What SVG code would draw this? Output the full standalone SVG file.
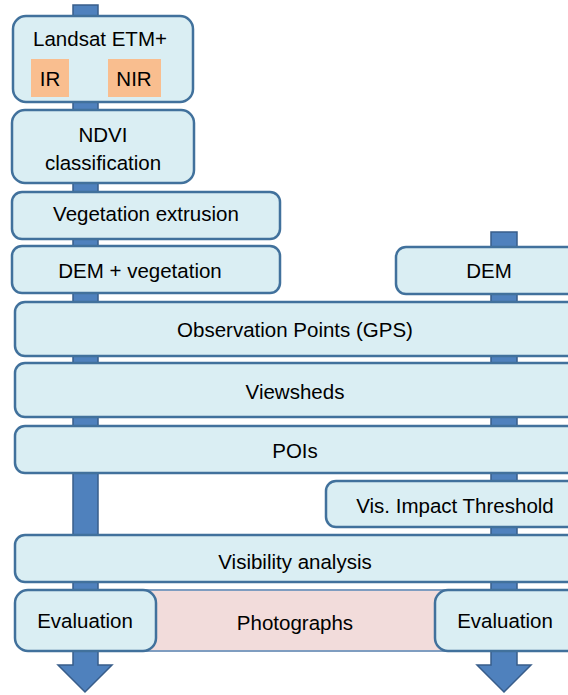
<svg xmlns="http://www.w3.org/2000/svg" width="568" height="695" viewBox="0 0 568 695">
<style>
.box{fill:#DAEEF3;stroke:#41719C;stroke-width:2.5}
.band{fill:#F9BE8F;stroke:none}
.pink{fill:#F2DCDB;stroke:#7F9DC0;stroke-width:2}
.shaft{fill:#4F81BD;stroke:#385D8A;stroke-width:1.5}
text{font-family:"Liberation Sans",Arial,sans-serif;font-size:20.5px;fill:#000;text-anchor:middle;dominant-baseline:central}
</style>
<g id="connectors">
<path class="shaft" d="M73,5 H98 V665 H112 L85,692 L58,665 H73 Z"/>
<path class="shaft" d="M491,232 H517 V665 H531 L504,692 L477,665 H491 Z"/>
</g>
<g id="landsat">
<rect class="box" x="13" y="16" width="180" height="86" rx="13"/>
<text x="100" y="38">Landsat ETM+</text>
</g>
<g id="ir"><rect class="band" x="31" y="59" width="38" height="38"/><text x="50" y="78">IR</text></g>
<g id="nir"><rect class="band" x="108" y="59" width="53" height="38"/><text x="134" y="78">NIR</text></g>
<g id="ndvi">
<rect class="box" x="12" y="110" width="182" height="73" rx="13"/>
<text x="103" y="134">NDVI</text>
<text x="103" y="162">classification</text>
</g>
<g id="vegext"><rect class="box" x="12" y="192" width="268" height="47" rx="10"/><text x="146" y="213">Vegetation extrusion</text></g>
<g id="demveg"><rect class="box" x="12" y="246" width="268" height="47" rx="10"/><text x="140" y="270">DEM + vegetation</text></g>
<g id="dem"><rect class="box" x="396" y="247" width="200" height="47" rx="10"/><text x="489" y="270">DEM</text></g>
<g id="obs"><rect class="box" x="15" y="302" width="580" height="54" rx="10"/><text x="295" y="329">Observation Points (GPS)</text></g>
<g id="viewsheds"><rect class="box" x="15" y="363" width="580" height="54" rx="10"/><text x="295" y="391">Viewsheds</text></g>
<g id="pois"><rect class="box" x="15" y="426" width="580" height="47" rx="10"/><text x="295" y="450">POIs</text></g>
<g id="vit"><rect class="box" x="326" y="481" width="270" height="46" rx="10"/><text x="455" y="505">Vis. Impact Threshold</text></g>
<g id="visibility"><rect class="box" x="15" y="535" width="580" height="47" rx="10"/><text x="295" y="561">Visibility analysis</text></g>
<g id="photographs"><rect class="pink" x="120" y="590" width="350" height="61" rx="10"/><text x="295" y="622">Photographs</text></g>
<g id="eval-left"><rect class="box" x="15" y="590" width="141" height="61" rx="13"/><text x="85" y="620">Evaluation</text></g>
<g id="eval-right"><rect class="box" x="435" y="590" width="160" height="61" rx="13"/><text x="505" y="620">Evaluation</text></g>
</svg>
